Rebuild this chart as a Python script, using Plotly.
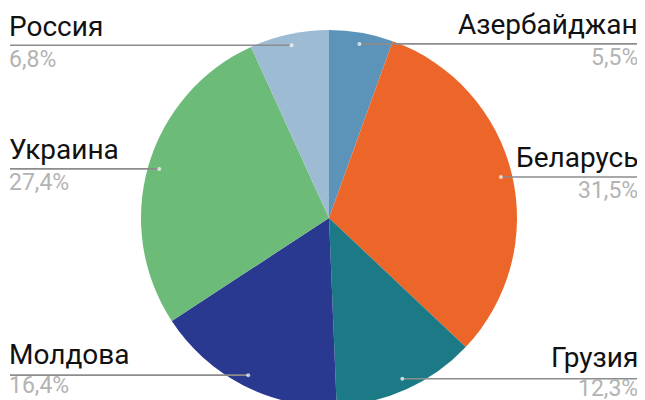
import math
import plotly.graph_objects as go

countries = ["Азербайджан", "Беларусь", "Грузия", "Молдова", "Украина", "Россия"]
shares = [5.5, 31.5, 12.3, 16.4, 27.4, 6.8]
pct_labels = ["5,5%", "31,5%", "12,3%", "16,4%", "27,4%", "6,8%"]
colors = ["#5B94B8", "#EC6629", "#1B7A86", "#2A3990", "#6DBB78", "#9DBBD3"]

# page body has an 8px default margin; work in screen pixels and convert
OX, OY = 8, 8
W, H = 637, 410

def sx2p(x):
    return (x - OX) / W

def sy2p(y):
    return 1 - (y - OY) / H

# pie target (screen px): center (329, 218), radius 188
PCX, PCY, PR = 329, 218, 188
dom_x = [sx2p(PCX - PR), sx2p(PCX + PR)]
dom_y = [sy2p(PCY + PR), sy2p(PCY - PR)]

fig = go.Figure(go.Pie(
    labels=countries,
    values=shares,
    sort=False,
    direction="clockwise",
    rotation=0,
    marker=dict(colors=colors, line=dict(width=0)),
    textinfo="none",
    hoverinfo="skip",
    domain=dict(x=dom_x, y=dom_y),
    showlegend=False,
))

# pie geometry in screen pixels (derived back from the domain)
wpx = (dom_x[1] - dom_x[0]) * W
hpx = (dom_y[1] - dom_y[0]) * H
R = min(wpx, hpx) / 2
cx = OX + (dom_x[0] + dom_x[1]) / 2 * W
cy = OY + H - (dom_y[0] + dom_y[1]) / 2 * H

total = sum(shares)
cum = 0
shapes = []
annotations = []
for name, val, pl in zip(countries, shares, pct_labels):
    mid = (cum + val / 2) / total * 2 * math.pi
    cum += val
    r = 0.94 * R
    dx = cx + r * math.sin(mid)
    dy = cy - r * math.cos(mid)
    right = math.sin(mid) > 0
    x_end = 645 if right else 10
    shapes.append(dict(type="line", xref="paper", yref="paper",
                       x0=sx2p(dx), y0=sy2p(dy), x1=sx2p(x_end), y1=sy2p(dy),
                       line=dict(color="#8c8c8c", width=1.6), layer="above"))
    shapes.append(dict(type="circle", xref="paper", yref="paper",
                       x0=sx2p(dx - 2), x1=sx2p(dx + 2),
                       y0=sy2p(dy + 2), y1=sy2p(dy - 2),
                       fillcolor="rgba(255,255,255,0.7)", line=dict(width=0),
                       layer="above"))
    tx = 640 if right else 7
    anchor = "right" if right else "left"
    bottom = dy > 300
    annotations.append(dict(xref="paper", yref="paper",
                            x=sx2p(tx), y=sy2p(dy - (21 if bottom else 19)),
                            text=name, showarrow=False, xanchor=anchor,
                            yanchor="middle",
                            font=dict(family="Roboto", size=28, color="#111111")))
    annotations.append(dict(xref="paper", yref="paper",
                            x=sx2p(tx),
                            y=sy2p(dy + (10 if bottom else 14)),
                            text=pl, showarrow=False, xanchor=anchor,
                            yanchor="middle",
                            font=dict(family="Roboto", size=23, color="#b3b3b3")))

fig.update_layout(
    width=W, height=H,
    margin=dict(l=0, r=0, t=0, b=0),
    paper_bgcolor="white",
    plot_bgcolor="white",
    shapes=shapes,
    annotations=annotations,
)

fig.write_html("out.html")
